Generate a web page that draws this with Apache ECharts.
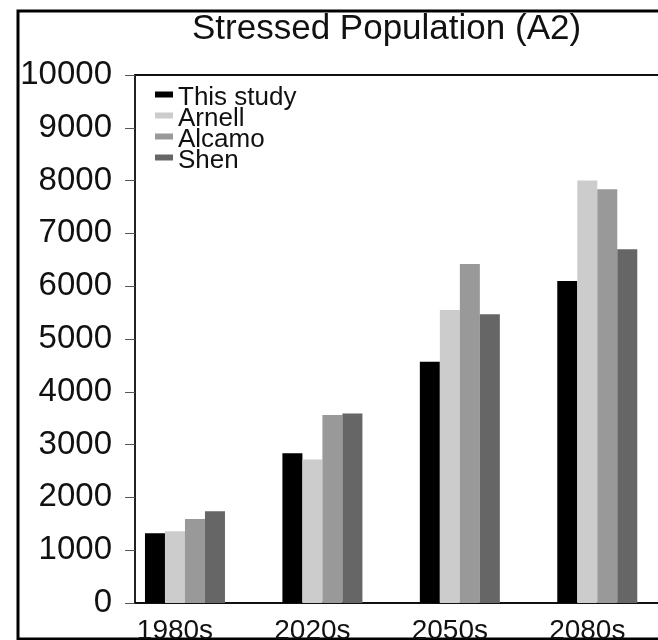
<!DOCTYPE html>
<html>
<head>
<meta charset="utf-8">
<script src="https://cdn.jsdelivr.net/npm/echarts@6/dist/echarts.min.js"></script>
<style>
html,body{margin:0;padding:0;background:#fff;}
#chart{width:658px;height:640px;}
</style>
</head>
<body>
<div id="chart"></div>
<script>
var categories = ['1980s', '2020s', '2050s', '2080s'];
var seriesNames = ['This study', 'Arnell', 'Alcamo', 'Shen'];
var thisStudy = [1320, 2835, 4570, 6100];
var arnell = [1360, 2720, 5550, 8000];
var alcamo = [1590, 3560, 6420, 7835];
var shen = [1740, 3590, 5470, 6700];
var yTicks = [0, 1000, 2000, 3000, 4000, 5000, 6000, 7000, 8000, 9000, 10000];

var colors = ['#000000', '#cccccc', '#999999', '#666666'];
var allData = [thisStudy, arnell, alcamo, shen];
var FONT = '"Liberation Sans", Arial, Helvetica, sans-serif';

var chart = echarts.init(document.getElementById('chart'), null, {renderer: 'canvas'});

var series = seriesNames.map(function (n, i) {
  return {
    name: n,
    type: 'bar',
    xAxisIndex: 2,
    yAxisIndex: 1,
    data: allData[i],
    barWidth: 20,
    barGap: '0%',
    itemStyle: {color: colors[i]},
    animation: false
  };
});

var option = {
  animation: false,
  backgroundColor: '#fff',
  title: {
    text: 'Stressed Population (A2)',
    left: 192,
    top: 12,
    padding: 0,
    textStyle: {fontFamily: FONT, fontSize: 35, fontWeight: 'normal', color: '#111'}
  },
  legend: {
    data: seriesNames,
    orient: 'vertical',
    left: 155,
    top: 78,
    padding: 0,
    itemWidth: 18,
    itemHeight: 6,
    itemGap: -12,
    icon: 'rect',
    formatter: '{a|{name}}',
    textStyle: {
      fontFamily: FONT, fontSize: 26, color: '#111',
      rich: {a: {fontFamily: FONT, fontSize: 26, color: '#111', lineHeight: 20, padding: [7, 0, 0, 0]}}
    }
  },
  graphic: [{
    type: 'rect',
    shape: {x: 18, y: 11, width: 720, height: 628},
    style: {fill: 'none', stroke: '#000', lineWidth: 3},
    silent: true
  }],
  grid: [
    {left: 135, right: -8, top: 75, bottom: 37, containLabel: false, outerBoundsMode: 'none'},
    {left: 116.25, right: -8, top: 75, bottom: 37, containLabel: false, outerBoundsMode: 'none'}
  ],
  xAxis: [
    {gridIndex: 0, type: 'value', position: 'bottom', min: 0, max: 1,
     axisLine: {show: true, lineStyle: {color: '#111', width: 2}},
     axisTick: {show: false}, axisLabel: {show: false}, splitLine: {show: false}},
    {gridIndex: 0, type: 'value', position: 'top', min: 0, max: 1,
     axisLine: {show: true, lineStyle: {color: '#111', width: 2}},
     axisTick: {show: false}, axisLabel: {show: false}, splitLine: {show: false}},
    {gridIndex: 1, type: 'category', data: categories,
     axisLine: {show: false}, axisTick: {show: false},
     axisLabel: {fontFamily: FONT, fontSize: 28, color: '#111', margin: 14, padding: [0, 20, 0, 0]}}
  ],
  yAxis: [
    {gridIndex: 0, type: 'value', min: yTicks[0], max: yTicks[yTicks.length - 1], interval: 1000,
     axisLine: {show: true, lineStyle: {color: '#222', width: 2}},
     axisTick: {show: true, length: 10, lineStyle: {color: '#555', width: 1}},
     axisLabel: {fontFamily: FONT, fontSize: 33, color: '#111', margin: 23,
                 formatter: function (v) { return String(v); }},
     splitLine: {show: false}},
    {gridIndex: 1, type: 'value', min: 0, max: 10000, show: false}
  ],
  series: series
};
chart.setOption(option);
</script>
</body>
</html>
